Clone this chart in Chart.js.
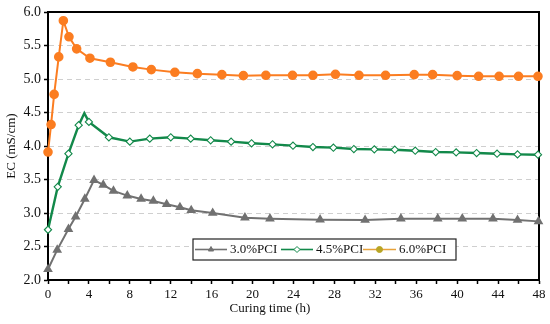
<!DOCTYPE html>
<html>
<head>
<meta charset="utf-8">
<script src="https://cdn.jsdelivr.net/npm/chart.js@4.4.0/dist/chart.umd.min.js"></script>
<style>
  html, body { margin: 0; padding: 0; background: #fff; }
  #wrap { width: 550px; height: 324px; }
</style>
</head>
<body>
<div id="wrap"><canvas id="ecChart" width="550" height="324"></canvas></div>
<script>
// curing time (h) and EC (mS/cm)
const hours30 = [0, 0.9, 2, 2.7, 3.6, 4.5, 5.4, 6.4, 7.75, 9.1, 10.3, 11.6, 12.9, 14, 16.1, 19.25, 21.7, 26.6, 31, 34.5, 38.1, 40.5, 43.5, 45.9, 47.95];
const ec30 = [2.16, 2.45, 2.76, 2.945, 3.21, 3.49, 3.42, 3.33, 3.26, 3.21, 3.18, 3.13, 3.085, 3.04, 3.0, 2.93, 2.915, 2.90, 2.895, 2.915, 2.915, 2.915, 2.915, 2.895, 2.875];

const hours45 = [0, 0.95, 2, 3, 3.55, 4, 5.95, 8, 9.95, 12, 13.95, 15.9, 17.9, 19.9, 21.95, 23.95, 25.9, 27.9, 29.9, 31.9, 33.9, 35.9, 37.9, 39.9, 41.9, 43.9, 45.9, 47.9];
const ec45 = [2.75, 3.39, 3.885, 4.31, 4.49, 4.36, 4.13, 4.065, 4.11, 4.13, 4.11, 4.085, 4.065, 4.04, 4.025, 4.005, 3.985, 3.975, 3.955, 3.95, 3.945, 3.93, 3.91, 3.905, 3.895, 3.885, 3.875, 3.87];

const hours60 = [0, 0.3, 0.6, 1.05, 1.5, 2.05, 2.8, 4.1, 6.1, 8.3, 10.1, 12.4, 14.6, 17, 19.1, 21.3, 23.9, 25.9, 28.1, 30.4, 33, 35.8, 37.6, 40, 42.1, 44.1, 46, 47.9];
const ec60 = [3.91, 4.32, 4.77, 5.33, 5.87, 5.63, 5.45, 5.31, 5.25, 5.18, 5.14, 5.10, 5.08, 5.065, 5.05, 5.055, 5.055, 5.055, 5.07, 5.055, 5.055, 5.065, 5.065, 5.05, 5.04, 5.04, 5.04, 5.04];

const seriesNames = ['3.0%PCI', '4.5%PCI', '6.0%PCI'];
const xTitle = 'Curing time (h)';
const yTitle = 'EC (mS/cm)';

const GRAY = '#717171';
const GREEN = '#12894a';
const ORANGE = '#fb7d21';
const FONT = '"Liberation Serif", "Times New Roman", serif';

function pts(xs, ys) {
    return xs.map((x, i) => ({ x: x, y: ys[i] }));
}

// green peak has no marker in the figure
const radius45 = hours45.map(h => h === 3.55 ? 0 : 3.6);

// frame + axis titles + boxed legend
const decor = {
    id: 'decor',
    beforeDatasetsDraw(chart) {
        const a = chart.chartArea;
        const ctx = chart.ctx;
        ctx.save();
        ctx.strokeStyle = '#000';
        ctx.lineWidth = 2;
        ctx.strokeRect(a.left, a.top, a.right - a.left, a.bottom - a.top);
        ctx.restore();
    },
    afterDraw(chart) {
        const ctx = chart.ctx;
        ctx.save();
        ctx.fillStyle = '#111';
        ctx.font = '13px ' + FONT;
        ctx.textAlign = 'center';
        ctx.textBaseline = 'middle';
        ctx.fillText(xTitle, 270, 309);
        ctx.translate(12, 146);
        ctx.rotate(-Math.PI / 2);
        ctx.fillText(yTitle, 0, 0);
        ctx.restore();

        // legend box
        ctx.save();
        ctx.fillStyle = '#fff';
        ctx.fillRect(193, 239, 263, 21);
        ctx.strokeStyle = '#222';
        ctx.lineWidth = 1.2;
        ctx.strokeRect(193, 239, 263, 21);
        const ly = 249.5;
        const items = [
            { x0: 195, x1: 227, color: GRAY, style: 'triangle', fill: GRAY, tx: 230 },
            { x0: 281, x1: 313, color: GREEN, style: 'rectRot', fill: '#fff', tx: 316 },
            { x0: 363, x1: 396, color: '#e8a23a', style: 'circle', fill: '#b8a524', tx: 399 }
        ];
        items.forEach((it, i) => {
            ctx.strokeStyle = it.color;
            ctx.lineWidth = 1.6;
            ctx.beginPath();
            ctx.moveTo(it.x0, ly);
            ctx.lineTo(it.x1, ly);
            ctx.stroke();
            ctx.fillStyle = it.fill;
            ctx.strokeStyle = it.style === 'rectRot' ? GREEN : it.fill;
            ctx.lineWidth = 1;
            Chart.helpers.drawPoint(ctx, { pointStyle: it.style, radius: 3, borderWidth: 1 }, (it.x0 + it.x1) / 2, ly);
            ctx.fillStyle = '#111';
            ctx.font = '13px ' + FONT;
            ctx.textAlign = 'left';
            ctx.textBaseline = 'middle';
            ctx.fillText(seriesNames[i], it.tx, ly + 0.5);
        });
        ctx.restore();
    }
};

const ctx = document.getElementById('ecChart').getContext('2d');
const ecChart = new Chart(ctx, {
    type: 'line',
    data: {
        datasets: [
            {
                label: seriesNames[0],
                data: pts(hours30, ec30),
                borderColor: GRAY,
                borderWidth: 2,
                pointStyle: 'triangle',
                pointRadius: 3.6,
                pointBackgroundColor: GRAY,
                pointBorderColor: GRAY,
                tension: 0,
                clip: false
            },
            {
                label: seriesNames[1],
                data: pts(hours45, ec45),
                borderColor: GREEN,
                borderWidth: 2.4,
                pointStyle: 'rectRot',
                pointRadius: radius45,
                pointBackgroundColor: '#fff',
                pointBorderColor: GREEN,
                pointBorderWidth: 1.1,
                tension: 0,
                clip: false
            },
            {
                label: seriesNames[2],
                data: pts(hours60, ec60),
                borderColor: ORANGE,
                borderWidth: 2,
                pointStyle: 'circle',
                pointRadius: 3.8,
                pointBackgroundColor: ORANGE,
                pointBorderColor: ORANGE,
                tension: 0,
                clip: false
            }
        ]
    },
    options: {
        responsive: false,
        animation: false,
        layout: { padding: { top: 12, right: 11, left: 0, bottom: 0 } },
        plugins: {
            legend: { display: false },
            tooltip: { enabled: false }
        },
        scales: {
            x: {
                type: 'linear',
                min: 0,
                max: 48,
                afterFit: s => { s.height = 44; },
                ticks: {
                    stepSize: 2,
                    autoSkip: false,
                    maxRotation: 0,
                    padding: 3,
                    color: '#111',
                    font: { family: FONT, size: 13 },
                    callback: v => (v % 4 === 0 ? String(v) : '')
                },
                grid: {
                    drawOnChartArea: false,
                    tickLength: 4,
                    tickColor: '#000',
                    tickWidth: 1.5
                },
                border: { color: '#000', width: 2 }
            },
            y: {
                min: 2,
                max: 6,
                afterFit: s => { s.width = 48; },
                ticks: {
                    stepSize: 0.5,
                    padding: 3,
                    color: '#111',
                    font: { family: FONT, size: 14 },
                    callback: v => v.toFixed(1)
                },
                grid: {
                    color: c => (c.tick && (c.tick.value === 2 || c.tick.value === 6) ? 'rgba(0,0,0,0)' : '#cfcfcf'),
                    lineWidth: 1,
                    tickLength: 4,
                    tickColor: '#000',
                    tickWidth: 1.5
                },
                border: { color: '#000', width: 2, dash: [5, 4] }
            }
        }
    },
    plugins: [decor]
});
</script>
</body>
</html>
